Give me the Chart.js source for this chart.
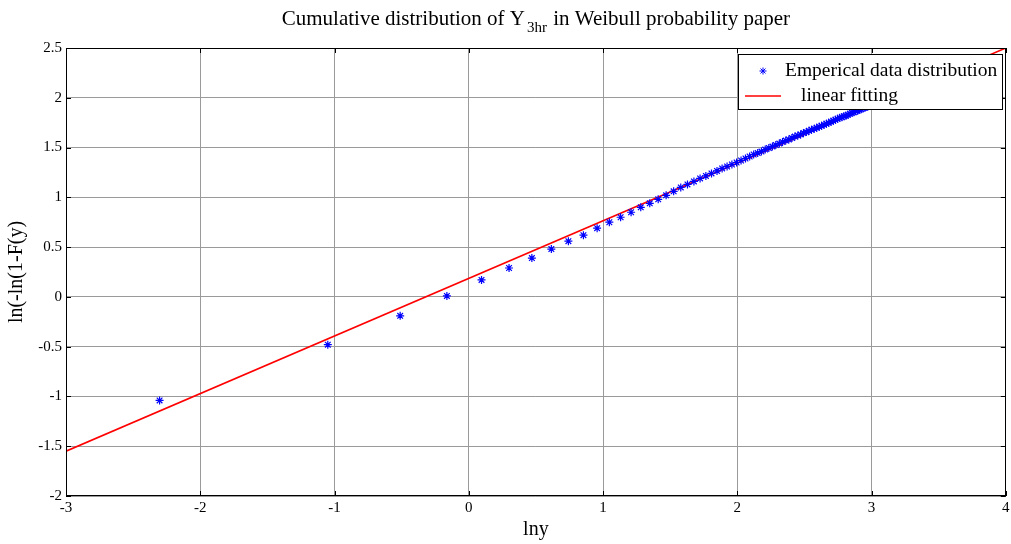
<!DOCTYPE html>
<html>
<head>
<meta charset="utf-8">
<script src="https://cdn.jsdelivr.net/npm/chart.js@4/dist/chart.umd.min.js"></script>
<style>
  html, body { margin: 0; padding: 0; background: #fff; }
  #wrap { width: 1011px; height: 544px; }
</style>
</head>
<body>
<div id="wrap"><canvas id="weibullChart" width="1011" height="544"></canvas></div>
<script>
// empirical points, x = ln(y), y = ln(-ln(1-F(y)))
const lnY = [
  -2.303, -1.050, -0.511, -0.163, 0.095, 0.300, 0.470, 0.615, 0.742, 0.854,
  0.956, 1.047, 1.131, 1.209, 1.281, 1.348, 1.411, 1.470, 1.526, 1.579,
  1.629, 1.677, 1.723, 1.766, 1.808, 1.849, 1.887, 1.924, 1.960, 1.995,
  2.028, 2.061, 2.092, 2.122, 2.152, 2.180, 2.208, 2.235, 2.262, 2.287,
  2.313, 2.337, 2.361, 2.384, 2.407, 2.429, 2.451, 2.472, 2.493, 2.514,
  2.534, 2.553, 2.573, 2.592, 2.610, 2.628, 2.646, 2.664, 2.681, 2.698,
  2.715, 2.731, 2.747, 2.763, 2.779, 2.794, 2.809, 2.824, 2.839, 2.854,
  2.868, 2.882, 2.896, 2.910, 2.923, 2.936, 2.950, 2.963, 2.976, 2.988
];
const lnLnF = [
  -1.04, -0.48, -0.19, 0.01, 0.17, 0.29, 0.39, 0.48, 0.56, 0.62,
  0.69, 0.75, 0.80, 0.85, 0.90, 0.94, 0.98, 1.02, 1.06, 1.10,
  1.13, 1.16, 1.19, 1.215, 1.24, 1.265, 1.29, 1.31, 1.33, 1.35,
  1.37, 1.39, 1.41, 1.43, 1.445, 1.46, 1.48, 1.495, 1.51, 1.525,
  1.54, 1.555, 1.57, 1.58, 1.595, 1.61, 1.62, 1.63, 1.645, 1.655,
  1.67, 1.68, 1.69, 1.70, 1.71, 1.72, 1.73, 1.74, 1.75, 1.76,
  1.77, 1.78, 1.79, 1.80, 1.805, 1.815, 1.82, 1.83, 1.84, 1.85,
  1.855, 1.865, 1.87, 1.88, 1.885, 1.895, 1.90, 1.91, 1.915, 1.92
];
// fitted straight line, end points
const fitX = [-3, 4];
const fitY = [-1.55, 2.5];

const xTicks = [-3, -2, -1, 0, 1, 2, 3, 4];
const yTicks = [-2, -1.5, -1, -0.5, 0, 0.5, 1, 1.5, 2, 2.5];

const FONT = '"Liberation Serif", "Times New Roman", serif';

// matlab style frame, inner ticks, title with subscript and boxed legend
const matlabDecor = {
    id: 'matlabDecor',
    afterDraw(chart) {
        const ctx = chart.ctx;
        const a = chart.chartArea;
        const xs = chart.scales.x;
        const ys = chart.scales.y;
        ctx.save();

        // frame
        ctx.strokeStyle = '#000';
        ctx.lineWidth = 1;
        ctx.strokeRect(Math.round(a.left) + 0.5, Math.round(a.top) + 0.5,
            Math.round(a.right - a.left) - 1, Math.round(a.bottom - a.top) - 1);

        // inner tick marks
        ctx.beginPath();
        xTicks.forEach(v => {
            const px = Math.round(xs.getPixelForValue(v)) + 0.5;
            ctx.moveTo(px, a.bottom); ctx.lineTo(px, a.bottom - 5);
            ctx.moveTo(px, a.top); ctx.lineTo(px, a.top + 5);
        });
        yTicks.forEach(v => {
            const py = Math.round(ys.getPixelForValue(v)) + 0.5;
            ctx.moveTo(a.left, py); ctx.lineTo(a.left + 5, py);
            ctx.moveTo(a.right, py); ctx.lineTo(a.right - 5, py);
        });
        ctx.stroke();

        // title: Cumulative distribution of Y_3hr in Weibull probability paper
        const big = '21px ' + FONT;
        const small = '15px ' + FONT;
        const p1 = 'Cumulative distribution of Y';
        const sub = '3hr';
        const p2 = ' in Weibull probability paper';
        ctx.fillStyle = '#000';
        ctx.textBaseline = 'alphabetic';
        ctx.textAlign = 'left';
        ctx.font = big;
        const w1 = ctx.measureText(p1).width;
        const w3 = ctx.measureText(p2).width;
        ctx.font = small;
        const w2 = ctx.measureText(sub).width + 3;
        let tx = (a.left + a.right) / 2 - (w1 + w2 + w3) / 2;
        const ty = 25;
        ctx.font = big;
        ctx.fillText(p1, tx, ty);
        tx += w1 + 2;
        ctx.font = small;
        ctx.fillText(sub, tx, ty + 7);
        tx += w2 - 2;
        ctx.font = big;
        ctx.fillText(p2, tx, ty);

        // legend box
        const lx = 738, ly = 54, lw = 264, lh = 55;
        ctx.fillStyle = '#fff';
        ctx.fillRect(lx, ly, lw, lh);
        ctx.strokeStyle = '#000';
        ctx.lineWidth = 1;
        ctx.strokeRect(lx + 0.5, ly + 0.5, lw, lh);
        ctx.font = '19.5px ' + FONT;
        ctx.fillStyle = '#000';
        ctx.textBaseline = 'middle';
        const dsPts = chart.data.datasets[0];
        const dsFit = chart.data.datasets[1];
        ctx.strokeStyle = dsPts.borderColor;
        Chart.helpers.drawPoint(ctx, { pointStyle: 'star', radius: 3.5, borderWidth: 1.2 }, 763, 71);
        ctx.fillText(dsPts.label, 785, 71);
        ctx.strokeStyle = dsFit.borderColor;
        ctx.lineWidth = 1.6;
        ctx.beginPath();
        ctx.moveTo(745, 96); ctx.lineTo(781, 96);
        ctx.stroke();
        ctx.fillText(dsFit.label, 801, 96);

        ctx.restore();
    }
};

new Chart(document.getElementById('weibullChart'), {
    type: 'scatter',
    data: {
        datasets: [
            {
                label: 'Emperical data distribution',
                data: lnY.map((x, i) => ({ x: x, y: lnLnF[i] })),
                showLine: false,
                pointStyle: 'star',
                pointRadius: 4,
                borderWidth: 1.2,
                borderColor: '#0000ff',
                backgroundColor: '#0000ff'
            },
            {
                label: 'linear fitting',
                data: fitX.map((x, i) => ({ x: x, y: fitY[i] })),
                showLine: true,
                pointRadius: 0,
                borderWidth: 1.6,
                borderColor: '#ff0000',
                backgroundColor: '#ff0000'
            }
        ]
    },
    options: {
        responsive: false,
        animation: false,
        layout: { padding: { top: 48, right: 4, left: 0, bottom: 0 } },
        plugins: {
            legend: { display: false },
            title: { display: false },
            tooltip: { enabled: false }
        },
        scales: {
            x: {
                type: 'linear',
                min: -3,
                max: 4,
                afterBuildTicks: s => { s.ticks = xTicks.map(v => ({ value: v })); },
                afterFit: s => { s.height = 48; s.paddingRight = 0; s.paddingLeft = 0; },
                grid: { color: '#9a9a9a', drawTicks: false },
                border: { display: false },
                ticks: {
                    color: '#000',
                    padding: 3,
                    maxRotation: 0,
                    font: { family: FONT, size: 15 },
                    callback: v => String(v)
                },
                title: {
                    display: true,
                    text: 'lny',
                    color: '#000',
                    font: { family: FONT, size: 20 },
                    padding: { top: 0, bottom: 2 }
                }
            },
            y: {
                type: 'linear',
                min: -2,
                max: 2.5,
                afterBuildTicks: s => { s.ticks = yTicks.map(v => ({ value: v })); },
                afterFit: s => { s.width = 66; s.paddingTop = 0; s.paddingBottom = 0; },
                grid: { color: '#9a9a9a', drawTicks: false },
                border: { display: false },
                ticks: {
                    color: '#000',
                    padding: 4,
                    font: { family: FONT, size: 15 },
                    callback: v => String(v)
                },
                title: {
                    display: true,
                    text: 'ln(-ln(1-F(y)',
                    color: '#000',
                    font: { family: FONT, size: 20 },
                    padding: { top: 5, bottom: 0 }
                }
            }
        }
    },
    plugins: [matlabDecor]
});
</script>
</body>
</html>
